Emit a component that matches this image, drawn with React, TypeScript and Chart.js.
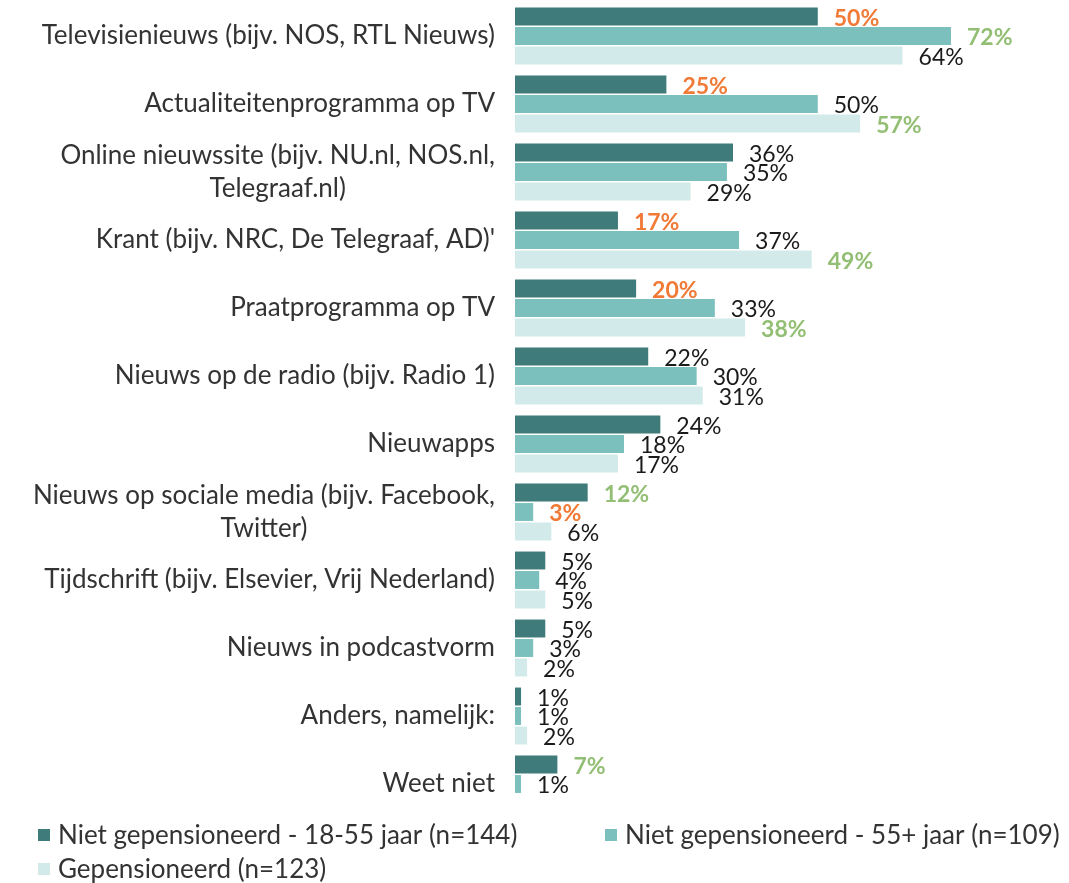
import React, { useEffect, useRef } from "react";
import { Chart, registerables } from "chart.js";

Chart.register(...registerables);

const categories: string[][] = [
  ["Televisienieuws (bijv. NOS, RTL Nieuws)"],
  ["Actualiteitenprogramma op TV"],
  ["Online nieuwssite (bijv. NU.nl, NOS.nl,", "Telegraaf.nl)"],
  ["Krant (bijv. NRC, De Telegraaf, AD)'"],
  ["Praatprogramma op TV"],
  ["Nieuws op de radio (bijv. Radio 1)"],
  ["Nieuwapps"],
  ["Nieuws op sociale media (bijv. Facebook,", "Twitter)"],
  ["Tijdschrift (bijv. Elsevier, Vrij Nederland)"],
  ["Nieuws in podcastvorm"],
  ["Anders, namelijk:"],
  ["Weet niet"],
];

const seriesNames = [
  "Niet gepensioneerd - 18-55 jaar (n=144)",
  "Niet gepensioneerd - 55+ jaar (n=109)",
  "Gepensioneerd (n=123)",
];

const series1: (number | null)[] = [50, 25, 36, 17, 20, 22, 24, 12, 5, 5, 1, 7];
const series2: (number | null)[] = [72, 50, 35, 37, 33, 30, 18, 3, 4, 3, 1, 1];
const series3: (number | null)[] = [64, 57, 29, 49, 38, 31, 17, 6, 5, 2, 2, null];

// significance markers: "lo" = significantly lower, "hi" = significantly higher
const sig1 = ["lo", "lo", "", "lo", "lo", "", "", "hi", "", "", "", "hi"];
const sig2 = ["hi", "", "", "", "", "", "", "lo", "", "", "", ""];
const sig3 = ["", "hi", "", "hi", "hi", "", "", "", "", "", "", ""];

const colors = ["#3f7b7a", "#7cc0be", "#d3eaea"];
const FONT = "Lato, 'Noto Sans', sans-serif";
const LABEL_SIZE = 26;
const VALUE_SIZE = 23;

const yLabelsPlugin = {
  id: "yLabels",
  afterDraw(chart: any) {
    const ctx = chart.ctx;
    const ys = chart.scales.y;
    const right = chart.chartArea.left - 20;
    ctx.save();
    ctx.font = `${LABEL_SIZE}px ${FONT}`;
    ctx.fillStyle = "#333333";
    ctx.textAlign = "center";
    ctx.textBaseline = "middle";
    const lh = 33;
    categories.forEach((lines, i) => {
      const cy = ys.getPixelForValue(i);
      const maxW = Math.max(...lines.map((l) => ctx.measureText(l).width));
      const cx = right - maxW / 2;
      const y0 = cy - ((lines.length - 1) * lh) / 2;
      lines.forEach((l, j) => ctx.fillText(l, cx, y0 + j * lh));
    });
    ctx.restore();
  },
};

const valueLabelsPlugin = {
  id: "valueLabels",
  afterDatasetsDraw(chart: any) {
    const ctx = chart.ctx;
    const sigs = [sig1, sig2, sig3];
    ctx.save();
    ctx.textAlign = "left";
    ctx.textBaseline = "middle";
    chart.data.datasets.forEach((ds: any, di: number) => {
      const meta = chart.getDatasetMeta(di);
      meta.data.forEach((bar: any, i: number) => {
        const v = ds.data[i];
        if (v === null || v === undefined) return;
        const s = sigs[di][i];
        if (s === "lo") {
          ctx.fillStyle = "#f07a36";
          ctx.font = `bold ${VALUE_SIZE}px ${FONT}`;
        } else if (s === "hi") {
          ctx.fillStyle = "#93bf74";
          ctx.font = `bold ${VALUE_SIZE}px ${FONT}`;
        } else {
          ctx.fillStyle = "#1a1a1a";
          ctx.font = `${VALUE_SIZE}px ${FONT}`;
        }
        ctx.fillText(`${Math.round(v)}%`, bar.x + 16, bar.y + 2);
      });
    });
    ctx.restore();
  },
};

const legendPlugin = {
  id: "customLegend",
  afterDraw(chart: any) {
    const ctx = chart.ctx;
    const pos = [
      [38, 835],
      [605, 835],
      [38, 869],
    ];
    ctx.save();
    ctx.font = `${LABEL_SIZE}px ${FONT}`;
    ctx.textBaseline = "middle";
    ctx.textAlign = "left";
    chart.data.datasets.forEach((ds: any, i: number) => {
      const [x, y] = pos[i];
      ctx.fillStyle = ds.backgroundColor;
      ctx.fillRect(x, y - 6, 12, 12);
      ctx.fillStyle = "#333333";
      ctx.fillText(ds.label, x + 20, y + 1);
    });
    ctx.restore();
  },
};

export default function App() {
  const ref = useRef<HTMLCanvasElement | null>(null);
  useEffect(() => {
    if (!ref.current) return;
    const chart = new Chart(ref.current, {
      type: "bar",
      data: {
        labels: categories.map((c) => c.join(" ")),
        datasets: [series1, series2, series3].map((d, i) => ({
          label: seriesNames[i],
          data: d,
          backgroundColor: colors[i],
          borderWidth: 0,
          categoryPercentage: 0.86,
          barPercentage: 0.92,
        })),
      },
      options: {
        indexAxis: "y",
        responsive: false,
        animation: false,
        layout: { padding: { left: 515, right: 9, top: 2, bottom: 65 } },
        plugins: {
          legend: { display: false },
          tooltip: { enabled: false },
        },
        scales: {
          x: { display: false, min: 0, max: 90 },
          y: {
            display: false,
            grid: { display: false },
          },
        },
      },
      plugins: [yLabelsPlugin, valueLabelsPlugin, legendPlugin],
    });
    return () => chart.destroy();
  }, []);
  return (
    <div style={{ position: "absolute", left: 0, top: 0, width: 1069, height: 883, background: "#ffffff" }}>
      <canvas ref={ref} width={1069} height={883} style={{ display: "block" }} />
    </div>
  );
}
